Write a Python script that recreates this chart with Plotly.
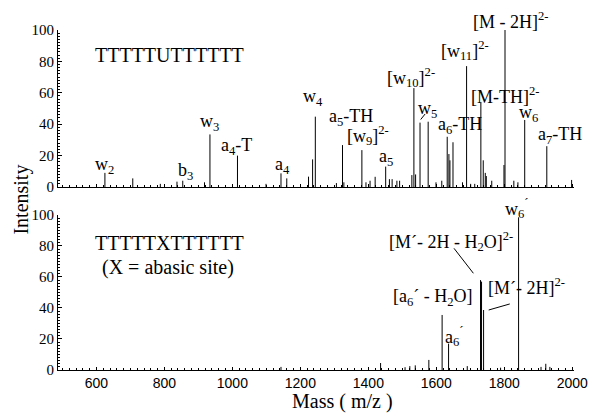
import plotly.graph_objects as go

# ---- spectrum data: TTTTTUTTTTTT (upper trace) ----
top_mass = [625, 707, 788, 837, 854, 918, 934, 1015, 1099, 1143, 1160,
            1224, 1236, 1244, 1306, 1324, 1328, 1381, 1393, 1405, 1420,
            1451, 1462, 1470, 1484, 1492, 1528, 1534, 1539, 1552, 1576,
            1599, 1616, 1632, 1637, 1640, 1649, 1677, 1689, 1701, 1713,
            1731, 1738, 1744, 1747, 1763, 1799, 1802, 1828, 1840, 1860,
            1925, 1998]
top_int = [9, 5.5, 2, 3.4, 4, 3, 33.5, 20, 2, 8.7, 5.5,
           6.6, 17.6, 44.8, 2.5, 26.7, 3, 23.5, 3, 4, 6.5,
           13, 5, 5, 4, 4, 7.6, 63, 8, 41, 41.6,
           3, 4, 32, 21, 17, 28.5, 3, 77, 2, 2,
           53.7, 17, 9, 7, 4, 14, 100, 4, 3, 42.7,
           26, 4.5]

# ---- spectrum data: TTTTTXTTTTTT (lower trace) ----
bot_mass = [1143, 1436, 1508, 1522, 1538, 1578, 1617, 1636, 1691, 1730,
            1733, 1739, 1789, 1842, 1908, 1922, 1934]
bot_int = [2, 4.5, 1.8, 2.5, 3, 6.5, 35.5, 17, 2.5, 58,
           57, 38.7, 1.5, 98.5, 2, 4, 2]

# ---- peak labels (text, mass, intensity at label centre) ----
top_labels = [
    ("w<sub>2</sub>", 623, 14),
    ("b<sub>3</sub>", 863, 10),
    ("w<sub>3</sub>", 932, 41),
    ("a<sub>4</sub>-T", 1013, 25.5),
    ("a<sub>4</sub>", 1146, 13.5),
    ("w<sub>4</sub>", 1237, 57),
    ("a<sub>5</sub>-TH", 1348, 44),
    ("[w<sub>9</sub>]<sup>2-</sup>", 1400, 33),
    ("a<sub>5</sub>", 1452, 18.5),
    ("[w<sub>10</sub>]<sup>2-</sup>", 1524, 70),
    ("w<sub>5</sub>", 1573, 49.6),
    ("a<sub>6</sub>-TH", 1671, 39),
    ("[w<sub>11</sub>]<sup>2-</sup>", 1683, 87),
    ("[M-TH]<sup>2-</sup>", 1801, 58.6),
    ("[M - 2H]<sup>2-</sup>", 1821, 106),
    ("w<sub>6</sub>", 1870, 47),
    ("a<sub>7</sub>-TH", 1963, 33),
]
bot_labels = [
    ("w<sub>6</sub><sup>\u00b4</sup>", 1836, 104.5),
    ("[M\u00b4- 2H - H<sub>2</sub>O]<sup>2-</sup>", 1642, 83),
    ("[a<sub>6</sub>\u00b4 - H<sub>2</sub>O]", 1590, 47),
    ("[M\u00b4- 2H]<sup>2-</sup>", 1864, 53.7),
    ("a<sub>6</sub><sup>\u00b4</sup>", 1652, 21.5),
]

# leader lines from label to peak: (x0, y0, x1, y1, panel)
leaders = [
    (1554, 43, 1567, 46.5, "top"),
    (1652, 78.5, 1709, 62.4, "bot"),
    (1754, 38.7, 1816, 42.6, "bot"),
]

x_ticks = [600, 800, 1000, 1200, 1400, 1600, 1800, 2000]
y_ticks = [0, 20, 40, 60, 80, 100]
Y_MAX = 100

SERIF = "Liberation Serif"
SANS = "Liberation Sans"


def stick_xy(mass, inten):
    xs, ys = [], []
    for m, h in zip(mass, inten):
        xs += [m, m, None]
        ys += [0, h, None]
    return xs, ys


fig = go.Figure()
tx, ty = stick_xy(top_mass, top_int)
fig.add_trace(go.Scatter(x=tx, y=ty, mode="lines", xaxis="x", yaxis="y",
                         line=dict(color="black", width=1), showlegend=False,
                         hoverinfo="skip"))
bx, by = stick_xy(bot_mass, bot_int)
fig.add_trace(go.Scatter(x=bx, y=by, mode="lines", xaxis="x2", yaxis="y2",
                         line=dict(color="black", width=1), showlegend=False,
                         hoverinfo="skip"))

xcommon = dict(range=[487, 2005], tickvals=x_ticks, ticks="inside", ticklen=3,
               tickcolor="black", showline=True, linecolor="black", linewidth=1,
               showgrid=False, zeroline=False,
               minor=dict(dtick=20, tick0=0, ticks="inside", ticklen=2,
                          tickcolor="black", showgrid=False))
ycommon = dict(range=[0, Y_MAX], tickvals=y_ticks, ticks="inside", ticklen=4,
               tickcolor="black", showline=True, linecolor="black", linewidth=1,
               showgrid=False, zeroline=False,
               tickfont=dict(family=SERIF, size=15, color="black"),
               minor=dict(dtick=2, tick0=0, ticks="inside", ticklen=2,
                          tickcolor="black", showgrid=False))

TOP_DOM = [0.5382, 1.0]
BOT_DOM = [0.0, 0.4559]

fig.update_layout(
    width=600, height=413,
    margin=dict(l=58, r=18, t=30, b=43),
    paper_bgcolor="white", plot_bgcolor="white",
    xaxis=dict(domain=[0, 1], anchor="y", showticklabels=False, **xcommon),
    yaxis=dict(domain=TOP_DOM, anchor="x", **ycommon),
    xaxis2=dict(domain=[0, 1], anchor="y2", showticklabels=True,
                tickfont=dict(family=SANS, size=14, color="black"), **xcommon),
    yaxis2=dict(domain=BOT_DOM, anchor="x2", **ycommon),
)

LABEL_FONT = dict(family=SERIF, size=18, color="black")
CAPTION_FONT = dict(family=SERIF, size=20, color="black")

annotations = []
# label heights are given in intensity units; placed on the axis domain so
# labels above the 100 % line stay visible
for text, m, y in top_labels:
    annotations.append(dict(text=text, x=m, y=y / Y_MAX, xref="x",
                            yref="y domain", showarrow=False,
                            xanchor="center", yanchor="middle", font=LABEL_FONT))
for text, m, y in bot_labels:
    annotations.append(dict(text=text, x=m, y=y / Y_MAX, xref="x2",
                            yref="y2 domain", showarrow=False,
                            xanchor="center", yanchor="middle", font=LABEL_FONT))

# sequence captions
annotations += [
    dict(text="TTTTTUTTTTTT", x=816, y=0.84, xref="x", yref="y domain",
         showarrow=False, xanchor="center", yanchor="middle", font=CAPTION_FONT),
    dict(text="TTTTTXTTTTTT", x=816, y=0.82, xref="x2", yref="y2 domain",
         showarrow=False, xanchor="center", yanchor="middle", font=CAPTION_FONT),
    dict(text="(X = abasic site)", x=811, y=0.66, xref="x2", yref="y2 domain",
         showarrow=False, xanchor="center", yanchor="middle", font=CAPTION_FONT),
    # axis titles
    dict(text="Intensity", x=-0.0725, y=0.5, xref="paper", yref="paper",
         textangle=-90, showarrow=False, xanchor="center", yanchor="middle",
         font=CAPTION_FONT),
    dict(text="Mass ( m/z )", x=0.5515, y=-0.094, xref="paper", yref="paper",
         showarrow=False, xanchor="center", yanchor="middle", font=CAPTION_FONT),
]
fig.update_layout(annotations=annotations)

shapes = []
for x0, y0, x1, y1, panel in leaders:
    xr, yr = ("x", "y") if panel == "top" else ("x2", "y2")
    shapes.append(dict(type="line", x0=x0, y0=y0, x1=x1, y1=y1, xref=xr,
                       yref=yr, line=dict(color="black", width=1)))
fig.update_layout(shapes=shapes)

fig.write_html("out.html")
